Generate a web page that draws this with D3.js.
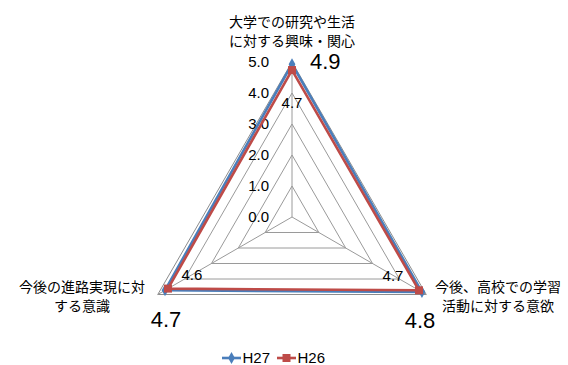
<!DOCTYPE html>
<html>
<head>
<meta charset="utf-8">
<script src="https://cdn.jsdelivr.net/npm/d3@7"></script>
<style>
  html, body { margin: 0; padding: 0; background: #fff; }
  svg { display: block; }
</style>
</head>
<body>
<svg id="chart" width="568" height="365"></svg>
<script>
// Survey axes (clockwise from the top), each label split over two lines
const categories = [
  ["大学での研究や生活", "に対する興味・関心"],
  ["今後、高校での学習", "活動に対する意欲"],
  ["今後の進路実現に対", "する意識"]
];
const seriesNames = ["H27", "H26"];
const valuesH27 = [4.93, 4.84, 4.73];
const valuesH26 = [4.74, 4.73, 4.62];
const tickValues = [0, 1, 2, 3, 4, 5];

const colors = { H27: "#4A7EBB", H26: "#BE4B48" };
const jpFont = "'Noto Sans CJK JP', 'Noto Sans', sans-serif";
const numFont = "'Liberation Sans', Arial, sans-serif";

const svg = d3.select("#chart");
const cx = 292, cy = 217;
const r = d3.scaleLinear().domain([0, 5]).range([0, 155]);
const angle = d3.scaleLinear().domain([0, categories.length]).range([-Math.PI / 2, 1.5 * Math.PI]);

const pt = (i, v) => [cx + r(v) * Math.cos(angle(i)), cy + r(v) * Math.sin(angle(i))];
const closed = d3.line().curve(d3.curveLinearClosed);

// grid rings
const grid = svg.append("g");
tickValues.filter(t => t > 0).forEach(t => {
  grid.append("path")
    .attr("d", closed(categories.map((_, i) => pt(i, t))))
    .attr("fill", "none")
    .attr("stroke", t === 5 ? "#8c8c8c" : "#9a9a9a")
    .attr("stroke-width", 1);
});
// spokes
categories.forEach((_, i) => {
  const [x, y] = pt(i, 5);
  grid.append("line")
    .attr("x1", cx).attr("y1", cy).attr("x2", x).attr("y2", y)
    .attr("stroke", "#9a9a9a").attr("stroke-width", 1);
});

// value axis tick labels along the vertical spoke
svg.append("g").selectAll("text")
  .data(tickValues)
  .join("text")
  .attr("x", cx - 23)
  .attr("y", d => cy - r(d))
  .attr("dy", "0.35em")
  .attr("text-anchor", "end")
  .attr("font-family", numFont)
  .attr("font-size", 15)
  .attr("fill", "#000")
  .text(d3.format(".1f"));

// category labels
const catPos = [
  { x: 292, y: 22 },
  { x: 498, y: 287 },
  { x: 82, y: 287 }
];
categories.forEach((lines, i) => {
  const t = svg.append("text")
    .attr("text-anchor", "middle")
    .attr("font-family", jpFont)
    .attr("font-size", 14)
    .attr("fill", "#000");
  lines.forEach((s, k) => {
    t.append("tspan")
      .attr("x", catPos[i].x)
      .attr("y", catPos[i].y + k * 19)
      .attr("dy", "0.35em")
      .text(s);
  });
});

// series
const series = [
  { name: "H27", values: valuesH27 },
  { name: "H26", values: valuesH26 }
];
const symbolFor = { H27: d3.symbolDiamond, H26: d3.symbolSquare };
const symbolSize = { H27: 40, H26: 64 };

series.forEach(s => {
  const g = svg.append("g");
  g.append("path")
    .attr("d", closed(s.values.map((v, i) => pt(i, v))))
    .attr("fill", "none")
    .attr("stroke", colors[s.name])
    .attr("stroke-width", 2.6)
    .attr("stroke-linejoin", "round");
  g.selectAll("path.mark")
    .data(s.values)
    .join("path")
    .attr("class", "mark")
    .attr("transform", (v, i) => `translate(${pt(i, v)})`)
    .attr("d", d3.symbol().type(symbolFor[s.name]).size(symbolSize[s.name]))
    .attr("fill", colors[s.name]);
});

// value labels: H27 large, outside; H26 small, inside
const fmt = d3.format(".1f");
const bigOffset = [[18, -3, "start"], [-2, 28, "middle"], [1, 29, "middle"]];
const smallOffset = [[0, 33, "middle"], [-26, -15, "middle"], [24, -14, "middle"]];

svg.append("g").selectAll("text")
  .data(valuesH27)
  .join("text")
  .attr("x", (v, i) => pt(i, v)[0] + bigOffset[i][0])
  .attr("y", (v, i) => pt(i, v)[1] + bigOffset[i][1])
  .attr("dy", "0.35em")
  .attr("text-anchor", (v, i) => bigOffset[i][2])
  .attr("font-family", numFont)
  .attr("font-size", 22)
  .attr("fill", "#000")
  .text(fmt);

svg.append("g").selectAll("text")
  .data(valuesH26)
  .join("text")
  .attr("x", (v, i) => pt(i, v)[0] + smallOffset[i][0])
  .attr("y", (v, i) => pt(i, v)[1] + smallOffset[i][1])
  .attr("dy", "0.35em")
  .attr("text-anchor", (v, i) => smallOffset[i][2])
  .attr("font-family", numFont)
  .attr("font-size", 15)
  .attr("fill", "#000")
  .text(fmt);

// legend
const legend = svg.append("g").attr("transform", "translate(222,358)");
const legendX = d3.scalePoint().domain(seriesNames).range([0, 55]);
seriesNames.forEach(name => {
  const g = legend.append("g").attr("transform", `translate(${legendX(name)},0)`);
  g.append("line")
    .attr("x1", 0).attr("x2", 19).attr("y1", 0).attr("y2", 0)
    .attr("stroke", colors[name]).attr("stroke-width", 2.6);
  g.append("path")
    .attr("transform", "translate(9.5,0)")
    .attr("d", d3.symbol().type(symbolFor[name]).size(symbolSize[name]))
    .attr("fill", colors[name]);
  g.append("text")
    .attr("x", 20.5).attr("y", 0).attr("dy", "0.35em")
    .attr("font-family", numFont)
    .attr("font-size", 15)
    .attr("fill", "#000")
    .text(name);
});
</script>
</body>
</html>
